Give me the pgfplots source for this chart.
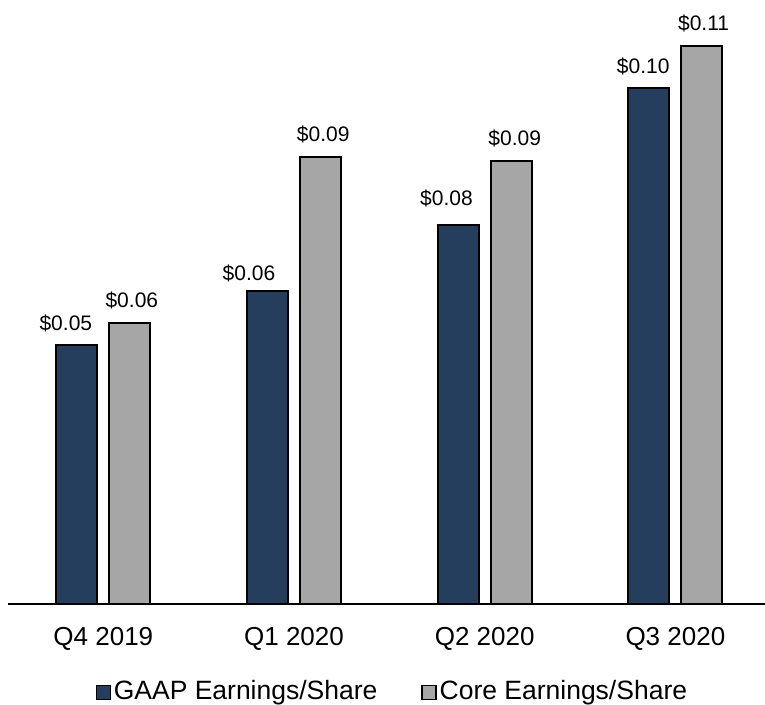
\documentclass[border=0pt]{standalone}
\usepackage{pgfplots}
\pgfplotsset{compat=1.18}
\usepackage{pgfplotstable}
\usepackage{fontspec}
\setmainfont{Liberation Sans}
\definecolor{gaap}{RGB}{38,62,94}
\definecolor{core}{RGB}{166,166,166}

\pgfplotstableread{
x val label dx dy
0 0.0511 0.05 -11 14
1 0.0617 0.06 -18.5 10
2 0.0747 0.08 -11.7 19
3 0.1016 0.10 -5.7 14.7
}\gaaptable

\pgfplotstableread{
x val label dx dy
0 0.0553 0.06 2 15.7
1 0.0881 0.09 2.7 15
2 0.0872 0.09 3.5 15.7
3 0.1100 0.11 1.7 15.7
}\coretable

\begin{document}
\begin{tikzpicture}
\path[use as bounding box] (-8pt,-100pt) rectangle (757pt,604pt);
\begin{axis}[
  at={(0pt,0pt)}, anchor=south west,
  scale only axis,
  width=757pt, height=604pt,
  xmin=-0.5, xmax=3.47,
  ymin=0, ymax=0.11901,
  clip=false,
  axis y line=none,
  axis x line=bottom,
  x axis line style={line width=2.5pt, -},
  xtick={0,1,2,3},
  xticklabels={Q4 2019, Q1 2020, Q2 2020, Q3 2020},
  major tick length=0pt,
  xtick style={draw=none},
  xticklabel style={font=\fontsize{26}{30}\selectfont, anchor=base, yshift=-41pt},
  ybar=12pt,
  bar width=41pt,
  nodes near coords={\$\pgfplotspointmeta},
  point meta=explicit symbolic,
  visualization depends on={\thisrow{dx} \as \dx},
  visualization depends on={\thisrow{dy} \as \dy},
  every node near coord/.append style={font=\fontsize{21}{25}\selectfont, anchor=base, xshift=\dx*1pt, yshift=\dy*1pt, text=black},
  legend columns=2,
  legend image code/.code={\draw[#1, line width=1.2pt] (0pt,0pt) rectangle (14pt,14pt);},
  legend style={draw=none, fill=none, font=\fontsize{26.5}{30}\selectfont,
    at={(axis description cs:0.1157,-0.1600)}, anchor=south west,
    inner sep=0pt, outer sep=0pt,
    nodes={inner sep=0pt},
    cells={anchor=base west},
    /tikz/every odd column/.append style={column sep=3pt},
    /tikz/every even column/.append style={column sep=44pt}},
]
\addplot[fill=gaap, draw=black, line width=2pt] table[x=x, y=val, meta=label] {\gaaptable};
\addlegendentry{GAAP Earnings/Share}
\addplot[fill=core, draw=black, line width=2pt] table[x=x, y=val, meta=label] {\coretable};
\addlegendentry{Core Earnings/Share}
\end{axis}
\end{tikzpicture}
\end{document}
